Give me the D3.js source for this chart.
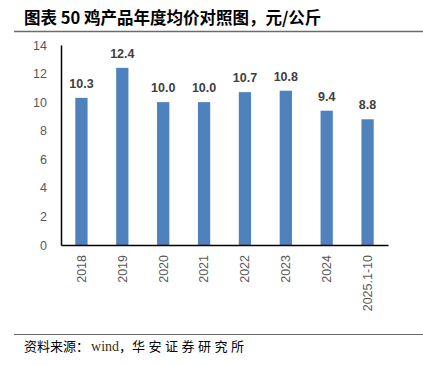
<!DOCTYPE html>
<html>
<head>
<meta charset="utf-8">
<script src="https://cdn.jsdelivr.net/npm/d3@7"></script>
<style>
body { margin: 0; background: #fff; }
svg { display: block; }
</style>
</head>
<body>
<div id="chart"></div>
<script>
// data
let years = ["2018", "2019", "2020", "2021", "2022", "2023", "2024", "2025.1-10"];
let prices = [10.3, 12.4, 10.0, 10.0, 10.7, 10.8, 9.4, 8.8];
let yTicks = [0, 2, 4, 6, 8, 10, 12, 14];

let W = 423, H = 365;
let margin = {left: 61, right: 35, top: 45, bottom: 120};

let svg = d3.select("#chart").append("svg")
    .attr("width", W)
    .attr("height", H);

// title
svg.append("text")
    .attr("x", 24)
    .attr("y", 24)
    .style("font-family", "'Noto Sans CJK SC', sans-serif")
    .style("font-weight", "bold")
    .style("font-size", "16.5px")
    .style("fill", "#000")
    .text("图表 50 鸡产品年度均价对照图，元/公斤");

svg.append("line")
    .attr("x1", 14).attr("x2", W)
    .attr("y1", 31.5).attr("y2", 31.5)
    .style("stroke", "#6b6b6b")
    .style("stroke-width", 1.5);

let x = d3.scaleBand()
    .domain(years)
    .range([margin.left, W - margin.right])
    .paddingInner(0.7)
    .paddingOuter(0.35);

let y = d3.scaleLinear()
    .domain([0, 14])
    .range([H - margin.bottom, margin.top]);

// bars
svg.append("g")
    .selectAll("rect")
    .data(prices)
    .enter()
    .append("rect")
    .attr("x", (d, i) => x(years[i]))
    .attr("y", d => y(d))
    .attr("width", x.bandwidth())
    .attr("height", d => y(0) - y(d))
    .style("fill", "#4F81BD");

// value labels
svg.append("g")
    .selectAll("text")
    .data(prices)
    .enter()
    .append("text")
    .attr("x", (d, i) => x(years[i]) + x.bandwidth() / 2)
    .attr("y", d => y(d) - 10)
    .attr("text-anchor", "middle")
    .style("font-family", "'Liberation Sans', sans-serif")
    .style("font-weight", "bold")
    .style("font-size", "12.5px")
    .style("fill", "#404040")
    .text(d => d.toFixed(1));

// y axis
let y_ax = d3.axisLeft(y)
    .tickValues(yTicks)
    .tickSize(0)
    .tickPadding(14);

let yg = svg.append("g")
    .attr("transform", `translate(${margin.left},0)`)
    .call(y_ax);
yg.select(".domain").style("stroke", "#000").style("stroke-width", 1.5);
yg.selectAll("text")
    .style("font-family", "'Liberation Sans', sans-serif")
    .style("font-size", "12.5px")
    .style("fill", "#595959");

// x axis
let x_ax = d3.axisBottom(x)
    .tickSize(0)
    .tickSizeOuter(0);

let xg = svg.append("g")
    .attr("transform", `translate(0,${y(0)})`)
    .call(x_ax);
xg.select(".domain").style("stroke", "#000").style("stroke-width", 1.5);
xg.selectAll("text")
    .style("font-family", "'Liberation Sans', sans-serif")
    .style("font-size", "12.5px")
    .style("fill", "#595959")
    .attr("text-anchor", "end")
    .attr("dy", "0.35em")
    .attr("transform", "translate(0,10) rotate(-90)")
    .attr("y", 0)
    .attr("x", 0);

// footer
svg.append("line")
    .attr("x1", 14).attr("x2", W)
    .attr("y1", 334.5).attr("y2", 334.5)
    .style("stroke", "#6b6b6b")
    .style("stroke-width", 1.2);

let foot = svg.append("text")
    .attr("x", 24)
    .attr("y", 351)
    .style("font-size", "13px")
    .style("fill", "#000");
foot.append("tspan")
    .style("font-family", "'Noto Sans CJK SC', sans-serif")
    .text("资料来源：");
foot.append("tspan")
    .attr("dx", 2)
    .style("font-family", "'Liberation Serif', serif")
    .style("font-size", "14px")
    .style("fill", "#3a2e12")
    .text("wind");
foot.append("tspan")
    .style("font-family", "'Noto Sans CJK SC', sans-serif")
    .text("，");
foot.append("tspan")
    .style("font-family", "'Noto Sans CJK SC', sans-serif")
    .style("letter-spacing", "3.5px")
    .text("华安证券研究所");
</script>
</body>
</html>
